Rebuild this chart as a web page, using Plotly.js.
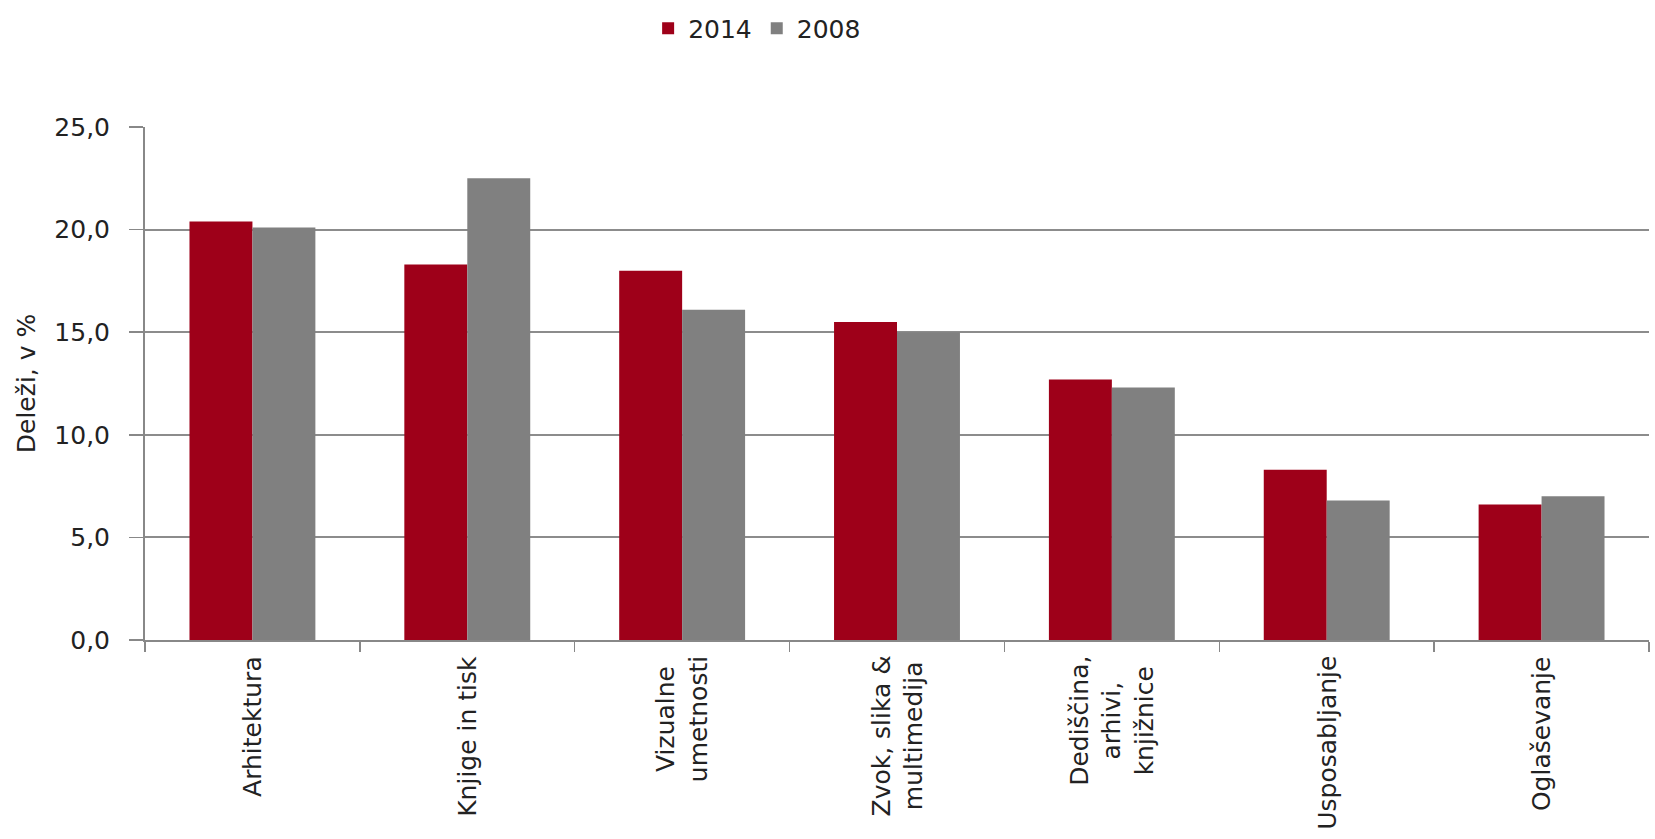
<!DOCTYPE html>
<html>
<head>
<meta charset="utf-8">
<script src="https://cdn.plot.ly/plotly-3.0.1.min.js"></script>
<style>html,body{margin:0;padding:0;background:#fff;}#chart{width:1655px;height:839px;}</style>
</head>
<body>
<div id="chart"></div>
<script>
const categories = ["Arhitektura", "Knjige in tisk", "Vizualne umetnosti", "Zvok, slika & multimedija", "Dediščina, arhivi, knjižnice", "Usposabljanje", "Oglaševanje"];
const tickLabels = ["Arhitektura", "Knjige in tisk", "Vizualne<br>umetnosti", "Zvok, slika &<br>multimedija", "Dediščina,<br>arhivi,<br>knjižnice", "Usposabljanje", "Oglaševanje"];
const seriesNames = ["2014", "2008"];
const values2014 = [20.4, 18.3, 18.0, 15.5, 12.7, 8.3, 6.6];
const values2008 = [20.1, 22.5, 16.1, 15.0, 12.3, 6.8, 7.0];
const yTickValues = [0, 5, 10, 15, 20, 25];

const FONT = "DejaVu Sans, sans-serif";
const TXT = "#222222";

const traces = [
  {type: "bar", name: seriesNames[0], x: categories, y: values2014, marker: {color: "#9e0019"}},
  {type: "bar", name: seriesNames[1], x: categories, y: values2008, marker: {color: "#808080"}}
];

const annotations = categories.map((c, i) => ({
  x: c, xref: "x", y: 0, yref: "paper",
  text: tickLabels[i], textangle: -90, showarrow: false,
  xanchor: "center", yanchor: "top", yshift: -14, align: "center",
  font: {family: FONT, size: 25, color: TXT}
}));

const layout = {
  width: 1655, height: 839,
  margin: {l: 145, r: 6, t: 123, b: 199},
  paper_bgcolor: "#ffffff", plot_bgcolor: "#ffffff",
  font: {family: FONT, size: 25, color: TXT},
  separators: ", ",
  barmode: "group", bargap: 0.414, bargroupgap: 0,
  showlegend: true,
  legend: {orientation: "h", x: 0.407, xanchor: "center", y: 1.192, yanchor: "middle",
           font: {family: FONT, size: 25, color: TXT}, itemwidth: 30, traceorder: "normal"},
  xaxis: {
    type: "category", categoryorder: "array", categoryarray: categories,
    showticklabels: false, tickson: "boundaries", ticks: "outside", ticklen: 10,
    tickcolor: "#888888", tickwidth: 1.5,
    showline: true, linecolor: "#888888", linewidth: 2, showgrid: false, fixedrange: true
  },
  yaxis: {
    range: [0, 25], tickvals: yTickValues, tickformat: ".1f",
    ticks: "outside", ticklen: 14, tickcolor: "#888888", tickwidth: 1.5,
    ticklabelstandoff: 14,
    showline: true, linecolor: "#888888", linewidth: 2,
    showgrid: true, gridcolor: "#8c8c8c", gridwidth: 2,
    zeroline: false,
    tickfont: {family: FONT, size: 25, color: TXT},
    title: {text: "Deleži, v %", font: {family: FONT, size: 25, color: TXT}, standoff: 12},
    automargin: false, fixedrange: true
  },
  annotations: annotations
};

Plotly.newPlot("chart", traces, layout, {displayModeBar: false, staticPlot: true});
</script>
</body>
</html>
